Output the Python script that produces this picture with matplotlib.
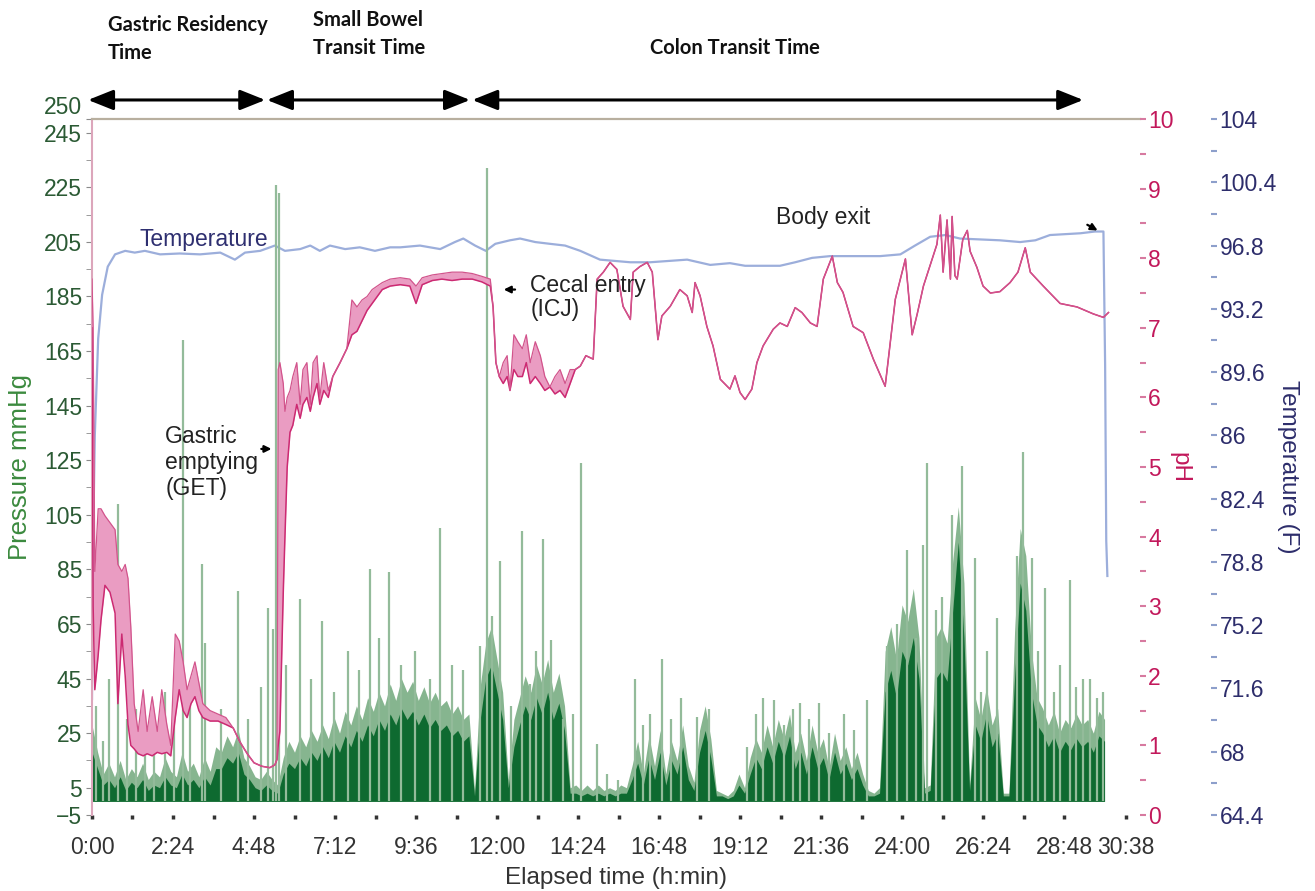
import numpy as np
import matplotlib
matplotlib.use('Agg')
import matplotlib.pyplot as plt

# time axis in minutes
xtick_min = [0, 144, 288, 432, 576, 720, 864, 1008, 1152, 1296, 1440, 1584, 1728, 1838]
xtick_lab = ['0:00', '2:24', '4:48', '7:12', '9:36', '12:00', '14:24', '16:48',
             '19:12', '21:36', '24:00', '26:24', '28:48', '30:38']

# pressure (mmHg), sampled every 10 min: dense dark body and lighter fuzz
press_t = np.arange(0, 1801, 10)
press_dark = [18, 12, 6, 8, 5, 9, 4, 7, 5, 8,
              4, 6, 5, 9, 6, 5, 10, 6, 8, 5,
              9, 6, 12, 12, 16, 14, 18, 10, 8, 5,
              4, 6, 4, 3, 10, 14, 12, 16, 13, 18,
              15, 20, 16, 22, 18, 24, 20, 26, 22, 28,
              24, 30, 26, 32, 28, 34, 30, 33, 28, 32,
              27, 30, 26, 28, 24, 26, 22, 24, 2, 30,
              45, 50, 40, 30, 5, 20, 28, 35, 30, 38,
              32, 40, 30, 36, 26, 3, 3, 2, 3, 2,
              3, 2, 3, 2, 3, 3, 8, 14, 6, 16,
              8, 18, 6, 15, 10, 20, 8, 4, 18, 26,
              16, 2, 2, 1, 2, 6, 3, 10, 16, 12,
              20, 14, 22, 16, 24, 12, 18, 10, 20, 12,
              16, 8, 18, 10, 14, 8, 12, 6, 2, 2,
              3, 40, 48, 38, 55, 50, 60, 45, 3, 4,
              45, 48, 44, 70, 95, 60, 4, 28, 22, 32,
              20, 25, 2, 2, 45, 80, 70, 40, 28, 25,
              20, 24, 18, 22, 19, 23, 20, 22, 18, 24,
              22]
press_light = [28, 18, 10, 14, 9, 15, 8, 12, 9, 14,
               8, 11, 9, 16, 11, 9, 18, 11, 14, 9,
               16, 11, 20, 18, 24, 20, 26, 16, 13, 9,
               8, 11, 8, 6, 16, 22, 18, 24, 20, 26,
               22, 28, 23, 31, 25, 33, 28, 35, 30, 38,
               33, 40, 35, 43, 37, 45, 40, 44, 37, 42,
               36, 40, 35, 37, 32, 35, 30, 32, 4, 42,
               58, 64, 52, 40, 8, 30, 38, 46, 40, 50,
               43, 52, 40, 47, 35, 5, 6, 4, 6, 4,
               6, 4, 5, 4, 6, 5, 13, 22, 10, 24,
               13, 26, 10, 22, 15, 28, 13, 7, 26, 35,
               23, 4, 3, 2, 4, 10, 5, 16, 23, 18,
               28, 20, 30, 23, 32, 18, 25, 15, 28, 18,
               23, 12, 25, 15, 20, 12, 18, 10, 4, 3,
               5, 55, 64, 52, 72, 66, 78, 60, 5, 6,
               60, 64, 58, 88, 108, 80, 6, 38, 30, 42,
               28, 34, 3, 3, 62, 100, 90, 55, 38, 34,
               28, 33, 25, 30, 27, 32, 28, 30, 25, 33,
               30]

# isolated pressure spikes (time min, mmHg)
spike_t = [8, 20, 30, 47, 62, 78, 95, 110, 130, 145, 162, 175, 195, 200, 230, 260, 278,
           300, 313, 322, 327, 332, 345, 370, 390, 408, 430, 455, 475, 494, 510, 528,
           550, 575, 600, 619, 640, 660, 690, 702, 711, 725, 745, 765, 779, 790, 802,
           816, 837, 855, 869, 897, 915, 935, 965, 980, 992, 1014, 1030, 1047, 1075,
           1097, 1165, 1181, 1193, 1213, 1230, 1246, 1259, 1275, 1293, 1310, 1337,
           1355, 1378, 1413, 1431, 1449, 1465, 1478, 1484, 1500, 1511, 1529, 1547,
           1570, 1580, 1591, 1609, 1645, 1655, 1671, 1682, 1694, 1710, 1721, 1739,
           1750, 1762, 1774, 1786, 1798]
spike_p = [35, 22, 45, 109, 30, 34, 28, 25, 40, 30, 169, 40, 87, 58, 34, 77, 30,
           42, 71, 63, 226, 223, 50, 74, 45, 66, 40, 55, 48, 85, 60, 84,
           50, 55, 45, 100, 50, 48, 57, 232, 68, 88, 35, 99, 43, 55, 96,
           59, 30, 32, 124, 21, 10, 8, 45, 28, 32, 52, 30, 38, 31,
           34, 20, 32, 38, 37, 28, 34, 36, 30, 36, 25, 32,
           26, 37, 57, 65, 92, 60, 94, 124, 70, 75, 105, 123,
           89, 40, 55, 67, 90, 128, 89, 55, 78, 40, 50, 81,
           42, 45, 45, 38, 40]

# pH trace: lower / upper edge of the noisy band
ph_t = [0, 2, 5, 11, 16, 23, 32, 41, 46, 53,
        59, 64, 69, 75, 82, 91, 98, 107, 116, 124,
        133, 140, 148, 155, 162, 169, 176, 183, 190, 197,
        210, 224, 238, 251, 263, 276, 288, 302, 316, 325, 329,
        331, 334, 340, 343, 347, 352, 357, 364, 370, 375,
        382, 388, 393, 400, 405, 412, 420, 428, 441, 453,
        462, 471, 480, 489, 498, 507, 516, 530, 548, 565,
        576, 587, 605, 622, 640, 658, 676, 693, 708,
        713, 718, 724, 731, 738, 743, 750, 757, 765, 772,
        779, 788, 797, 805, 814, 823, 832, 841, 850, 859,
        868, 878, 891,
        898, 909, 921, 933, 944, 957, 962, 974, 987, 996,
        1006, 1013, 1028, 1045, 1058, 1067, 1072, 1081, 1093, 1104,
        1117, 1134, 1143, 1152, 1161, 1173, 1182, 1193, 1211, 1223,
        1236, 1250, 1262, 1277, 1289, 1300, 1316, 1325, 1335, 1353,
        1371, 1389, 1410, 1428, 1446, 1458, 1467, 1478, 1490, 1502,
        1508, 1513, 1520, 1526, 1529, 1534, 1538, 1548, 1556, 1561,
        1573, 1584, 1597, 1614, 1632, 1646, 1659, 1668, 1691, 1721,
        1751, 1780, 1798, 1807]
ph_lo = [7.0, 3.0, 1.8, 2.3, 2.8, 3.3, 3.2, 2.9, 1.6, 2.6,
         2.0, 1.3, 1.0, 0.95, 0.88, 0.85, 0.88, 0.85, 0.9, 0.88,
         0.9, 0.85, 1.4, 1.8, 1.5, 1.4, 1.6, 1.7, 1.5, 1.4,
         1.35, 1.35, 1.3, 1.25, 1.05, 0.88, 0.75, 0.7, 0.68, 0.72, 0.8,
         1.0, 1.2, 3.2, 4.0, 5.0, 5.5, 5.6, 5.9, 5.7, 5.9,
         6.0, 5.8, 6.0, 6.2, 5.9, 6.1, 6.0, 6.3, 6.5, 6.7,
         6.9, 6.95, 7.1, 7.25, 7.35, 7.45, 7.55, 7.6, 7.62, 7.6,
         7.35, 7.62, 7.68, 7.7, 7.68, 7.7, 7.7, 7.66, 7.6,
         7.3, 6.5, 6.3, 6.2, 6.3, 6.1, 6.4, 6.3, 6.3, 6.5,
         6.2, 6.3, 6.2, 6.1, 6.15, 6.05, 6.1, 6.0, 6.2, 6.4,
         6.45, 6.6, 6.55,
         7.7, 7.8, 7.94, 7.84, 7.31, 7.12, 7.8, 7.88, 7.94, 7.8,
         6.83, 7.17, 7.31, 7.55, 7.46, 7.22, 7.65, 7.46, 7.02, 6.74,
         6.26, 6.12, 6.31, 6.07, 5.97, 6.12, 6.5, 6.74, 6.98, 7.07,
         7.02, 7.29, 7.22, 7.07, 7.02, 7.7, 8.03, 7.65, 7.51, 7.02,
         6.93, 6.55, 6.16, 7.41, 7.99, 6.9, 7.2, 7.6, 7.9, 8.2,
         8.62, 7.8, 8.55, 7.7, 8.6, 7.75, 7.7, 8.27, 8.4, 8.1,
         7.87, 7.6, 7.5, 7.52, 7.65, 7.8, 8.15, 7.8, 7.6, 7.35,
         7.3, 7.2, 7.15, 7.22]
ph_hi_early = [7.7, 7.0, 3.5, 4.4, 4.4, 4.3, 4.2, 4.1, 3.6, 3.5,
               3.6, 3.4, 2.7, 1.6, 1.2, 1.8, 1.2, 1.7, 1.2, 1.8,
               1.3, 1.0, 2.6, 2.5, 2.2, 1.8, 2.0, 2.2, 1.9, 1.6,
               1.5, 1.45, 1.4, 1.25, 1.05, 0.88, 0.75, 0.7, 0.68, 0.72, 0.8,
               6.4, 6.5, 6.2, 5.8, 6.0, 6.1, 6.3, 6.5, 5.9, 6.4,
               6.5, 5.9, 6.5, 6.6, 6.0, 6.5, 6.1, 6.3, 6.5, 6.7,
               7.4, 7.3, 7.4, 7.45, 7.55, 7.6, 7.65, 7.7, 7.72, 7.7,
               7.6, 7.72, 7.76, 7.78, 7.8, 7.8, 7.78, 7.74, 7.7,
               7.3, 6.5, 6.3, 6.5, 6.6, 6.1, 6.9, 6.8, 6.7, 6.9,
               6.5, 6.8, 6.6, 6.3, 6.15, 6.3, 6.4, 6.2, 6.4, 6.4,
               6.45, 6.6, 6.55]
ph_hi = ph_hi_early + ph_lo[len(ph_hi_early):]

# temperature (F)
temp_t = [0, 2, 5, 11, 18, 28, 41, 59, 76, 94, 121, 156, 192, 228, 254, 272, 299, 325,
          343, 370, 388, 405, 423, 450, 476, 503, 530, 548, 583, 619, 645, 660, 681,
          700, 717, 743, 761, 788, 814, 841, 868, 903, 957, 992, 1058, 1099, 1134,
          1161, 1223, 1250, 1280, 1312, 1401, 1437, 1463, 1490, 1517, 1543, 1614,
          1650, 1677, 1703, 1757, 1783, 1798, 1801, 1803, 1805]
temp_f = [71.0, 80, 86, 91.5, 94.0, 95.6, 96.3, 96.5, 96.4, 96.5, 96.3, 96.35, 96.3,
          96.4, 96.0, 96.4, 96.5, 96.8, 96.5, 96.6, 96.8, 96.5, 96.8, 96.6, 96.7,
          96.5, 96.7, 96.7, 96.8, 96.6, 97.0, 97.2, 96.8, 96.5, 96.9, 97.1, 97.2,
          97.0, 96.9, 96.8, 96.5, 96.0, 95.85, 95.85, 96.0, 95.7, 95.8, 95.65,
          95.65, 95.85, 96.1, 96.2, 96.2, 96.3, 96.8, 97.3, 97.4, 97.2, 97.1, 97.0,
          97.1, 97.4, 97.5, 97.6, 97.6, 90, 80, 78.0]

p_ticks = [-5, 5, 25, 45, 65, 85, 105, 125, 145, 165, 185, 205, 225, 245, 250]
t_ticks = [64.4, 68, 71.6, 75.2, 78.8, 82.4, 86, 89.6, 93.2, 96.8, 100.4, 104]
t_labels = ['64.4', '68', '71.6', '75.2', '78.8', '82.4', '86', '89.6', '93.2',
            '96.8', '100.4', '104']

plt.rcParams['font.family'] = ['Liberation Sans', 'DejaVu Sans']

fig = plt.figure(figsize=(13.15, 8.91), dpi=100)
ax = fig.add_axes([0.06996, 0.0853, 0.79696, 0.7811])
ax_t = ax.twinx()
ax_ph = ax.twinx()

# stacking: temperature under pressure under pH
ax_t.set_zorder(1)
ax.set_zorder(2)
ax_ph.set_zorder(3)
ax.patch.set_visible(False)
ax_ph.patch.set_visible(False)

# pressure
ax.fill_between(press_t, 0, press_light, color='#86b58f', lw=0)
ax.vlines(spike_t, 0, spike_p, color='#93bb9a', lw=1.6)
ax.fill_between(press_t, 0, press_dark, color='#0e6a30', lw=0)
ax.set_xlim(0, 1863)
ax.set_ylim(-5, 250)
ax.set_yticks(p_ticks)
ax.set_yticklabels([('\u2212%d' % -v) if v < 0 else str(v) for v in p_ticks])
ax.set_yticks(range(15, 240, 20), minor=True)
ax.tick_params(axis='y', which='both', colors='#8a8a8a', labelcolor='#2b5a34',
               labelsize=16.5, length=4, pad=3)
# the 250 label sits right on top of 245, lift it a little
ax.get_yticklabels()[-1].set_va('bottom')
ax.set_xticks(xtick_min)
ax.set_xticklabels(xtick_lab)
ax.set_xticks(range(72, 1800, 144), minor=True)
ax.tick_params(axis='x', which='both', colors='#333333', labelsize=16.5,
               length=3, width=2.5, pad=12)
ax.set_ylabel('Pressure mmHg', color='#3b8a3e', fontsize=18.5)
ax.yaxis.set_label_coords(-0.057, 0.5)
ax.set_xlabel('Elapsed time (h:min)', color='#333333', fontsize=17.5, labelpad=6)
for s in ['right', 'bottom']:
    ax.spines[s].set_visible(False)
ax.spines['left'].set_color('#dca6bb')
ax.spines['left'].set_linewidth(1.5)
ax.spines['top'].set_color('#b8af9f')
ax.spines['top'].set_linewidth(1.6)

# temperature
ax_t.plot(temp_t, temp_f, color='#9caedb', lw=1.6)
ax_t.set_ylim(64.4, 104)
ax_t.set_yticks(t_ticks)
ax_t.set_yticklabels(t_labels)
ax_t.set_yticks([66.2 + 3.6 * i for i in range(11)], minor=True)
ax_t.spines['right'].set_position(('axes', 1.068))
for s in ax_t.spines.values():
    s.set_visible(False)
ax_t.tick_params(axis='y', which='both', colors='#8d9fcb', labelcolor='#2d2d6b',
                 labelsize=16.5, length=4, width=1.5, pad=2)
ax_t.set_ylabel('Temperature (F)', color='#2d2d6b', fontsize=17.5, rotation=270)
ax_t.yaxis.set_label_coords(1.152, 0.5)

# pH
ax_ph.fill_between(ph_t, ph_lo, ph_hi, color='#ea9cc2', lw=0)
ax_ph.plot(ph_t, ph_lo, color='#cc2a72', lw=1.1)
ax_ph.plot(ph_t, ph_hi, color='#d2548c', lw=0.9)
ax_ph.set_ylim(0, 10)
ax_ph.set_yticks(range(0, 11))
ax_ph.set_yticks([i + 0.5 for i in range(10)], minor=True)
for s in ax_ph.spines.values():
    s.set_visible(False)
ax_ph.tick_params(axis='y', which='both', colors='#d77aa0', labelcolor='#c2185b',
                  labelsize=16.5, length=4, width=1.5, pad=2)
ax_ph.set_ylabel('pH', color='#c2185b', fontsize=17.5, rotation=270)
ax_ph.yaxis.set_label_coords(1.048, 0.5)

# annotations (drawn on the pH layer so they sit on top)
txt = dict(color='#222222', fontsize=16.5)
arr = dict(arrowstyle='-|>', color='black', lw=1.6, mutation_scale=10)
ax_ph.text(84, 8.27, 'Temperature', color='#2e2f70', fontsize=16.5, va='center')
ax_ph.text(130, 5.6, 'Gastric\nemptying\n(GET)', va='top', linespacing=1.15, **txt)
ax_ph.annotate('', xy=(324, 5.26), xytext=(296, 5.26), arrowprops=arr)
ax_ph.text(779, 7.78, 'Cecal entry\n(ICJ)', va='top', linespacing=1.1, **txt)
ax_ph.annotate('', xy=(727, 7.55), xytext=(757, 7.55), arrowprops=arr)
ax_ph.text(1216, 8.59, 'Body exit', va='center', **txt)
ax_ph.annotate('', xy=(1792, 8.38), xytext=(1765, 8.5), arrowprops=arr)

# phase arrows and headings above the plot
phase = dict(arrowstyle='<|-|>,head_length=0.7,head_width=0.28', color='black',
             lw=2.2, mutation_scale=22, shrinkA=0, shrinkB=0)
for a, b in [(-7, 308), (311, 672), (676, 1762)]:
    ax.annotate('', xy=(b, 0.8878), xytext=(a, 0.8878),
                xycoords=('data', 'figure fraction'),
                textcoords=('data', 'figure fraction'),
                arrowprops=phase, annotation_clip=False)

head = dict(fontsize=14.5, fontweight='bold', color='#111111',
            family=['Liberation Sans Narrow', 'Lato', 'DejaVu Sans'],
            linespacing=1.5, va='top')
fig.text(108 / 1315, 1 - 15 / 891, 'Gastric Residency\nTime', **head)
fig.text(313 / 1315, 1 - 10 / 891, 'Small Bowel\nTransit Time', **head)
fig.text(650 / 1315, 1 - 38 / 891, 'Colon Transit Time', **head)

fig.savefig('out.png', dpi=100)
